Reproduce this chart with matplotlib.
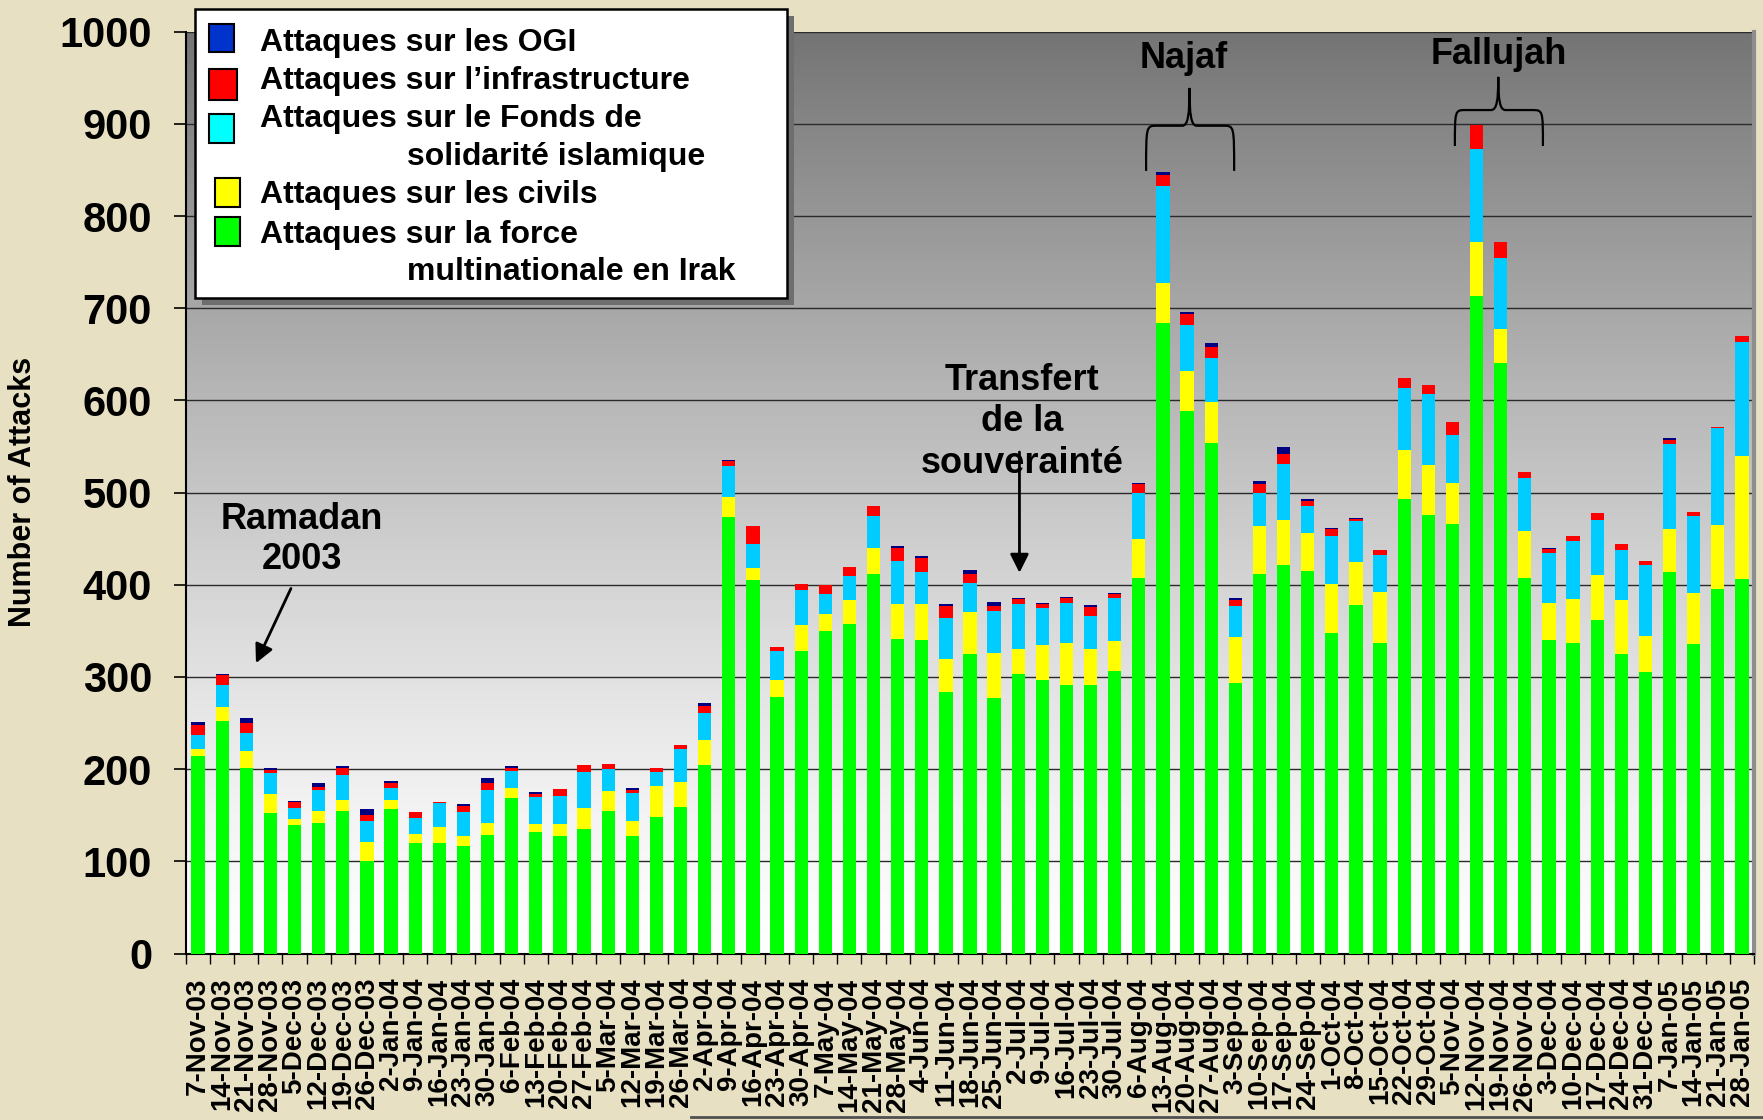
import numpy as np
import matplotlib
matplotlib.use('Agg')
import matplotlib.pyplot as plt
from matplotlib.patches import Rectangle, PathPatch
from matplotlib.path import Path
from matplotlib.lines import Line2D

# weekly data, 7-Nov-03 .. 28-Jan-05
dates = ['7-Nov-03', '14-Nov-03', '21-Nov-03', '28-Nov-03', '5-Dec-03', '12-Dec-03',
         '19-Dec-03', '26-Dec-03', '2-Jan-04', '9-Jan-04', '16-Jan-04', '23-Jan-04',
         '30-Jan-04', '6-Feb-04', '13-Feb-04', '20-Feb-04', '27-Feb-04', '5-Mar-04',
         '12-Mar-04', '19-Mar-04', '26-Mar-04', '2-Apr-04', '9-Apr-04', '16-Apr-04',
         '23-Apr-04', '30-Apr-04', '7-May-04', '14-May-04', '21-May-04', '28-May-04',
         '4-Jun-04', '11-Jun-04', '18-Jun-04', '25-Jun-04', '2-Jul-04', '9-Jul-04',
         '16-Jul-04', '23-Jul-04', '30-Jul-04', '6-Aug-04', '13-Aug-04', '20-Aug-04',
         '27-Aug-04', '3-Sep-04', '10-Sep-04', '17-Sep-04', '24-Sep-04', '1-Oct-04',
         '8-Oct-04', '15-Oct-04', '22-Oct-04', '29-Oct-04', '5-Nov-04', '12-Nov-04',
         '19-Nov-04', '26-Nov-04', '3-Dec-04', '10-Dec-04', '17-Dec-04', '24-Dec-04',
         '31-Dec-04', '7-Jan-05', '14-Jan-05', '21-Jan-05', '28-Jan-05']

force = [214, 252, 201, 152, 139, 142, 155, 100, 157, 120, 120, 117, 129, 169, 132, 128,
         135, 155, 127, 148, 159, 205, 473, 405, 278, 328, 350, 357, 412, 341, 340, 284,
         325, 277, 303, 297, 291, 291, 307, 407, 684, 589, 554, 293, 412, 422, 415, 348,
         378, 337, 493, 476, 466, 713, 641, 407, 340, 337, 362, 325, 305, 414, 336, 395, 406]
civils = [8, 15, 19, 21, 7, 13, 12, 21, 10, 10, 17, 10, 13, 10, 8, 13,
          23, 21, 17, 34, 27, 27, 22, 13, 19, 28, 18, 26, 28, 38, 39, 35,
          45, 49, 27, 38, 46, 39, 32, 43, 43, 43, 44, 50, 52, 48, 41, 53,
          47, 55, 53, 54, 44, 59, 36, 51, 40, 48, 49, 58, 39, 47, 55, 70, 134]
fonds = [15, 24, 19, 23, 12, 22, 27, 23, 13, 17, 26, 27, 35, 19, 30, 30,
         39, 24, 30, 15, 36, 29, 34, 26, 31, 38, 22, 26, 35, 47, 35, 45,
         32, 46, 49, 40, 43, 36, 47, 50, 106, 50, 48, 34, 36, 61, 30, 52,
         44, 40, 68, 77, 52, 101, 78, 58, 55, 62, 59, 55, 77, 92, 84, 105, 123]
infra = [11, 11, 11, 3, 6, 4, 7, 6, 5, 6, 1, 6, 8, 3, 3, 7,
         8, 6, 3, 4, 4, 8, 5, 20, 4, 7, 10, 10, 11, 14, 15, 13,
         10, 5, 6, 4, 6, 10, 4, 9, 12, 12, 12, 7, 9, 11, 5, 8,
         2, 6, 10, 10, 15, 26, 17, 6, 4, 6, 8, 6, 5, 4, 4, 1, 7]
ogi = [3, 1, 6, 2, 1, 4, 2, 7, 2, 1, 0, 2, 5, 2, 2, 0,
       0, 0, 2, 0, 0, 3, 1, 0, 0, 0, 0, 0, 0, 2, 2, 2,
       4, 4, 1, 1, 1, 2, 1, 1, 3, 2, 4, 2, 4, 8, 2, 1,
       1, 0, 0, 0, 0, 0, 0, 0, 1, 0, 0, 0, 0, 2, 0, 0, 0]

legend_labels = ['Attaques sur les OGI', 'Attaques sur l\u2019infrastructure',
                 'Attaques sur le Fonds de', 'Attaques sur les civils',
                 'Attaques sur la force']
legend_cont = ['solidarit\u00e9 islamique', 'multinationale en Irak']

plt.rcParams['font.family'] = ['Liberation Sans', 'DejaVu Sans']
plt.rcParams['font.weight'] = 'bold'

W, H = 1763, 1120
fig = plt.figure(figsize=(W / 100, H / 100), dpi=100, facecolor='#E7E0C2')
ax = fig.add_axes([186 / W, 1 - 953.5 / H, (1754 - 186) / W, (953.5 - 31.7) / H])

n = len(dates)
x = np.arange(n)

# gray gradient of the plot area
v = np.linspace(0, 1, 400)
g = 1 - 0.545 * v ** 1.3
grad = np.stack([g, g, g], axis=-1)[:, None, :]
ax.imshow(grad, extent=(-0.5, n - 0.5, 0, 1000), origin='lower', aspect='auto',
          interpolation='bilinear', zorder=0)

series = [(force, '#00FF00'), (civils, '#FFFF00'), (fonds, '#00CCFF'),
          (infra, '#FF0000'), (ogi, '#000080')]
bottom = np.zeros(n)
for vals, col in series:
    ax.bar(x, vals, 0.55, bottom=bottom, color=col, linewidth=0, zorder=3)
    bottom += np.array(vals)

ax.set_xlim(-0.5, n - 0.5)
ax.set_ylim(0, 1000)
ax.set_yticks(range(0, 1001, 100))
ax.set_axisbelow(True)
ax.yaxis.grid(True, color='#2a2a2a', lw=1)

ax.tick_params(axis='y', length=8.9, width=1.2, pad=15.5, labelsize=30)
ax.set_xticks(x)
ax.set_xticklabels(dates, rotation=90, fontsize=20, fontweight='bold')
ax.tick_params(axis='x', which='major', length=0, pad=17.5)
ax.set_xticks(np.arange(-0.5, n, 1), minor=True)
ax.tick_params(axis='x', which='minor', length=7, width=1, direction='out')

ax.spines['top'].set_visible(False)
ax.spines['left'].set_linewidth(1.5)
ax.spines['bottom'].set_linewidth(1.5)
ax.spines['right'].set_color('#8e8e8e')
ax.spines['right'].set_linewidth(3)

fig.text(23 / W, 1 - 492 / H, 'Number of Attacks', rotation=90, ha='center',
         va='center', fontsize=22)

# annotations
arrow = dict(arrowstyle='-|>', color='black', lw=2, mutation_scale=28,
             shrinkA=0, shrinkB=0)
ax.text(4.31, 449, 'Ramadan\n2003', ha='center', va='center', fontsize=26,
        linespacing=1.2, zorder=6)
ax.annotate('', xy=(2.4, 315), xytext=(3.85, 396), arrowprops=arrow, zorder=6)

# spelling kept as on the original slide
ax.text(34.15, 577, 'Transfert\nde la\nsouverainté', ha='center', va='center',
        fontsize=26, linespacing=1.24, zorder=6)
ax.annotate('', xy=(34.05, 413), xytext=(34.05, 544), arrowprops=arrow, zorder=7)

ax.text(40.85, 961, 'Najaf', ha='center', va='baseline', fontsize=26, zorder=6)
ax.text(53.93, 965, 'Fallujah', ha='center', va='baseline', fontsize=26, zorder=6)


def brace(x0, x1, xc, y_end, y_mid, y_tip, dx=0.45, dc=0.3):
    h = (y_tip - y_mid) * 0.3
    verts = [(x0, y_end), (x0, y_mid), (x0, y_mid), (x0 + dx, y_mid),
             (xc - dc, y_mid),
             (xc - dc * 0.2, y_mid), (xc, y_mid + h), (xc, y_tip),
             (xc, y_mid + h), (xc + dc * 0.2, y_mid), (xc + dc, y_mid),
             (x1 - dx, y_mid),
             (x1, y_mid), (x1, y_mid), (x1, y_end)]
    codes = [Path.MOVETO, Path.CURVE4, Path.CURVE4, Path.CURVE4, Path.LINETO,
             Path.CURVE4, Path.CURVE4, Path.CURVE4, Path.CURVE4, Path.CURVE4,
             Path.CURVE4, Path.LINETO, Path.CURVE4, Path.CURVE4, Path.CURVE4]
    ax.add_patch(PathPatch(Path(verts, codes), fill=False, lw=1.6, color='black',
                           zorder=6, clip_on=False))


brace(39.3, 42.95, 41.1, 849, 898, 939)
brace(52.1, 55.75, 53.9, 876, 915, 951)


# legend box drawn in figure pixels
def fx(px):
    return px / W


def fy(py):
    return 1 - py / H


def frect(x0, y0, x1, y1, **kw):
    r = Rectangle((fx(x0), fy(y1)), (x1 - x0) / W, (y1 - y0) / H,
                  transform=fig.transFigure, **kw)
    fig.add_artist(r)


frect(201.5, 16, 794, 305, facecolor='#6e6e6e', edgecolor='none', zorder=4)
frect(194.5, 9, 787, 298, facecolor='white', edgecolor='black', lw=1.8, zorder=5)

leg_colors = ['#0033CC', '#FF0000', '#00FFFF', '#FFFF00', '#00FF00']
leg_boxes = [(208.5, 24, 234, 52), (208.5, 69, 236.5, 100), (208.5, 114, 234, 143),
             (215, 178, 240, 207), (215, 217, 240, 246)]
leg_base = [50.5, 89.5, 127.5, 203.5, 242.5]
for lab, col, bx, yb in zip(legend_labels, leg_colors, leg_boxes, leg_base):
    frect(*bx, facecolor=col, edgecolor='black', lw=1.5, zorder=6)
    fig.text(fx(260), fy(yb), lab, ha='left', va='baseline', fontsize=23, zorder=6)
for lab, yb in zip(legend_cont, [165.5, 280.5]):
    fig.text(fx(407), fy(yb), lab, ha='left', va='baseline', fontsize=23, zorder=6)

fig.add_artist(Line2D([fx(691), 1], [fy(1116.5), fy(1116.5)],
                      transform=fig.transFigure, color='#505050', lw=2))

fig.savefig('out.png', dpi=100, facecolor=fig.get_facecolor())
